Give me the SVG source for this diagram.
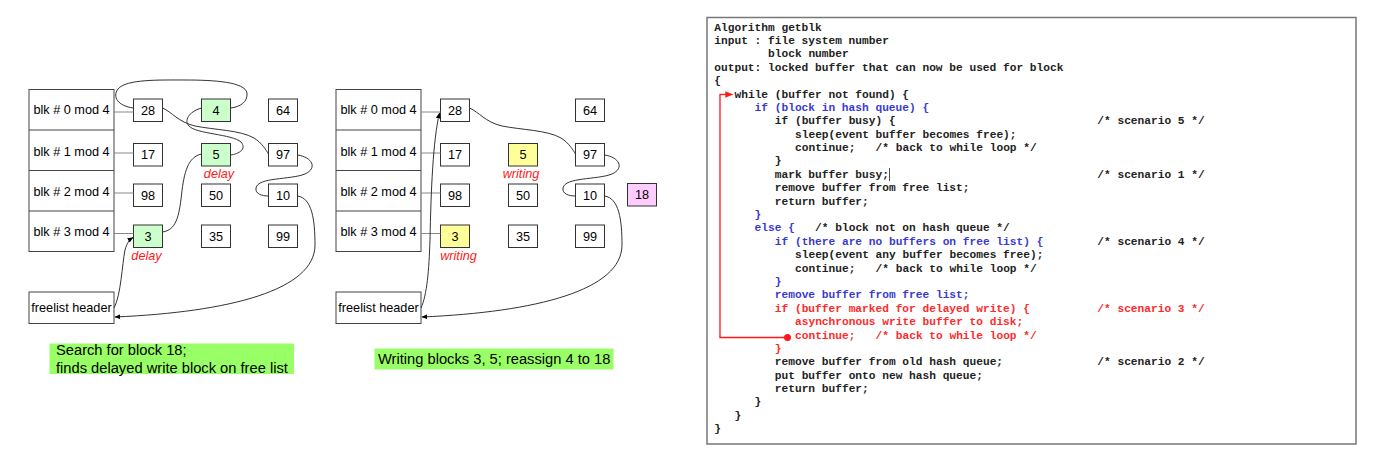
<svg xmlns="http://www.w3.org/2000/svg" width="1379" height="461" viewBox="0 0 1379 461">
<style>
.t{font-family:"Liberation Sans",Arial,sans-serif;font-size:12.7px;fill:#000;text-anchor:middle;dominant-baseline:central}
.lab{font-family:"Liberation Sans",Arial,sans-serif;font-size:12.7px;fill:#ff1a1a;font-style:italic;text-anchor:middle;dominant-baseline:central}
.cap{font-family:"Liberation Sans",Arial,sans-serif;font-size:14.7px;fill:#000}
.box{fill:#fff;stroke:#333;stroke-width:1}
.grn{fill:#ccffcc;stroke:#333;stroke-width:1}
.yel{fill:#ffff99;stroke:#333;stroke-width:1}
.pnk{fill:#ffccff;stroke:#333;stroke-width:1}
.tbl{fill:#fff;stroke:#444;stroke-width:1}
.hl{stroke:#888;stroke-width:1;fill:none}
.cv{stroke:#333;stroke-width:1;fill:none}
.code{font-family:"Liberation Mono","Courier New",monospace;font-size:11.2px;font-weight:bold;fill:#222}
.b{fill:#3a3ad0}
.r{fill:#ff2a2a}
</style>
<defs>
<marker id="ah" viewBox="0 0 10 10" refX="9" refY="5" markerWidth="6" markerHeight="6" orient="auto" markerUnits="userSpaceOnUse"><path d="M0,1 L10,5 L0,9 z" fill="#000"/></marker>
<marker id="rah" viewBox="0 0 10 10" refX="9" refY="5" markerWidth="8" markerHeight="8" orient="auto" markerUnits="userSpaceOnUse"><path d="M0,1 L10,5 L0,9 z" fill="#ff1a1a"/></marker>
</defs>
<rect width="1379" height="461" fill="#fff"/>
<rect id="code-frame" x="707" y="17.5" width="649" height="426.5" fill="#fff" stroke="#777" stroke-width="1.5"/>

<!-- LEFT DIAGRAM -->
<g id="left-hash-table">
<rect class="tbl" x="29" y="89.5" width="85" height="162"/>
<line x1="29" y1="130" x2="114" y2="130" stroke="#444"/>
<line x1="29" y1="170.5" x2="114" y2="170.5" stroke="#444"/>
<line x1="29" y1="211" x2="114" y2="211" stroke="#444"/>
<text class="t" x="71.5" y="110">blk # 0 mod 4</text>
<text class="t" x="71.5" y="151.5">blk # 1 mod 4</text>
<text class="t" x="71.5" y="191.5">blk # 2 mod 4</text>
<text class="t" x="71.5" y="231.5">blk # 3 mod 4</text>
</g>
<g id="left-freelist-header">
<rect class="tbl" x="29" y="292" width="85" height="31.5"/>
<text class="t" x="71.5" y="308">freelist header</text>
</g>
<g id="l-28"><rect class="box" x="133.5" y="99" width="29" height="22.5"/><text class="t" x="148" y="110.5">28</text></g>
<g id="l-4"><rect class="grn" x="201.5" y="99" width="29" height="22.5"/><text class="t" x="216" y="110.5">4</text></g>
<g id="l-64"><rect class="box" x="268.5" y="99" width="29" height="22.5"/><text class="t" x="283" y="110.5">64</text></g>
<g id="l-17"><rect class="box" x="133.5" y="143.5" width="29" height="22.5"/><text class="t" x="148" y="155">17</text></g>
<g id="l-5"><rect class="grn" x="201.5" y="143.5" width="29" height="22.5"/><text class="t" x="216" y="155">5</text><text class="lab" x="219" y="174">delay</text></g>
<g id="l-97"><rect class="box" x="268.5" y="143.5" width="29" height="22.5"/><text class="t" x="283" y="155">97</text></g>
<g id="l-98"><rect class="box" x="133.5" y="184" width="29" height="22.5"/><text class="t" x="148" y="195.5">98</text></g>
<g id="l-50"><rect class="box" x="201.5" y="184" width="29" height="22.5"/><text class="t" x="216" y="195.5">50</text></g>
<g id="l-10"><rect class="box" x="268.5" y="184" width="29" height="22.5"/><text class="t" x="283" y="195.5">10</text></g>
<g id="l-3"><rect class="grn" x="133.5" y="225" width="29" height="22.5"/><text class="t" x="148" y="236.5">3</text><text class="lab" x="146.5" y="256">delay</text></g>
<g id="l-35"><rect class="box" x="201.5" y="225" width="29" height="22.5"/><text class="t" x="216" y="236.5">35</text></g>
<g id="l-99"><rect class="box" x="268.5" y="225" width="29" height="22.5"/><text class="t" x="283" y="236.5">99</text></g>
<g id="left-caption">
<rect x="49.5" y="343.5" width="244.5" height="30.5" fill="#99ff66"/>
<text class="cap" x="56" y="355">Search for block 18;</text>
<text class="cap" x="56" y="372.5">finds delayed write block on free list</text>
</g>

<!-- MIDDLE DIAGRAM -->
<g id="mid-hash-table">
<rect class="tbl" x="336" y="89.5" width="85" height="162"/>
<line x1="336" y1="130" x2="421" y2="130" stroke="#444"/>
<line x1="336" y1="170.5" x2="421" y2="170.5" stroke="#444"/>
<line x1="336" y1="211" x2="421" y2="211" stroke="#444"/>
<text class="t" x="378.5" y="110">blk # 0 mod 4</text>
<text class="t" x="378.5" y="151.5">blk # 1 mod 4</text>
<text class="t" x="378.5" y="191.5">blk # 2 mod 4</text>
<text class="t" x="378.5" y="231.5">blk # 3 mod 4</text>
</g>
<g id="mid-freelist-header">
<rect class="tbl" x="336" y="292" width="85" height="31.5"/>
<text class="t" x="378.5" y="308">freelist header</text>
</g>
<g id="m-28"><rect class="box" x="440.5" y="99" width="29" height="22.5"/><text class="t" x="455" y="110.5">28</text></g>
<g id="m-64"><rect class="box" x="575.5" y="99" width="29" height="22.5"/><text class="t" x="590" y="110.5">64</text></g>
<g id="m-17"><rect class="box" x="440.5" y="143.5" width="29" height="22.5"/><text class="t" x="455" y="155">17</text></g>
<g id="m-5"><rect class="yel" x="508.5" y="143.5" width="29" height="22.5"/><text class="t" x="523" y="155">5</text><text class="lab" x="521" y="174">writing</text></g>
<g id="m-97"><rect class="box" x="575.5" y="143.5" width="29" height="22.5"/><text class="t" x="590" y="155">97</text></g>
<g id="m-98"><rect class="box" x="440.5" y="184" width="29" height="22.5"/><text class="t" x="455" y="195.5">98</text></g>
<g id="m-50"><rect class="box" x="508.5" y="184" width="29" height="22.5"/><text class="t" x="523" y="195.5">50</text></g>
<g id="m-10"><rect class="box" x="575.5" y="184" width="29" height="22.5"/><text class="t" x="590" y="195.5">10</text></g>
<g id="m-18"><rect class="pnk" x="627.5" y="183.5" width="29" height="22.5"/><text class="t" x="642" y="195">18</text></g>
<g id="m-3"><rect class="yel" x="440.5" y="225" width="29" height="22.5"/><text class="t" x="455" y="236.5">3</text><text class="lab" x="458.5" y="256">writing</text></g>
<g id="m-35"><rect class="box" x="508.5" y="225" width="29" height="22.5"/><text class="t" x="523" y="236.5">35</text></g>
<g id="m-99"><rect class="box" x="575.5" y="225" width="29" height="22.5"/><text class="t" x="590" y="236.5">99</text></g>
<g id="mid-caption">
<rect x="374.5" y="348.5" width="239" height="21" fill="#99ff66"/>
<text class="cap" x="378" y="364">Writing blocks 3, 5; reassign 4 to 18</text>
</g>

<!-- CODE PANEL -->
<g id="code-panel">
<text class="code" x="714.3" y="30.5">Algorithm getblk</text>
<text class="code" x="714.3" y="43.9">input : file system number</text>
<text class="code" x="768.1" y="57.3">block number</text>
<text class="code" x="714.3" y="70.7">output: locked buffer that can now be used for block</text>
<text class="code" x="714.3" y="84.1">{</text>
<text class="code" x="734.5" y="97.5">while (buffer not found) {</text>
<text class="code b" x="754.6" y="110.8">if (block in hash queue) {</text>
<text class="code" x="774.8" y="124.2">if (buffer busy) {</text>
<text class="code" x="1097.3" y="124.2">/* scenario 5 */</text>
<text class="code" x="795" y="137.6">sleep(event buffer becomes free);</text>
<text class="code" x="795" y="151">continue;</text>
<text class="code" x="875.6" y="151">/* back to while loop */</text>
<text class="code" x="774.8" y="164.4">}</text>
<text class="code" x="774.8" y="177.8">mark buffer busy;</text>
<line x1="889.5" y1="168" x2="889.5" y2="181" stroke="#222" stroke-width="0.8"/>
<text class="code" x="1097.3" y="177.8">/* scenario 1 */</text>
<text class="code" x="774.8" y="191.2">remove buffer from free list;</text>
<text class="code" x="774.8" y="204.6">return buffer;</text>
<text class="code b" x="754.6" y="218">}</text>
<text class="code b" x="754.6" y="231.4">else {</text>
<text class="code" x="815.1" y="231.4">/* block not on hash queue */</text>
<text class="code b" x="774.8" y="244.7">if (there are no buffers on free list) {</text>
<text class="code" x="1097.3" y="244.7">/* scenario 4 */</text>
<text class="code" x="795" y="258.1">sleep(event any buffer becomes free);</text>
<text class="code" x="795" y="271.5">continue;</text>
<text class="code" x="875.6" y="271.5">/* back to while loop */</text>
<text class="code b" x="774.8" y="284.9">}</text>
<text class="code b" x="774.8" y="298.3">remove buffer from free list;</text>
<text class="code r" x="774.8" y="311.7">if (buffer marked for delayed write) {</text>
<text class="code r" x="1097.3" y="311.7">/* scenario 3 */</text>
<text class="code r" x="795" y="325.1">asynchronous write buffer to disk;</text>
<text class="code r" x="795" y="338.5">continue;</text>
<text class="code r" x="875.6" y="338.5">/* back to while loop */</text>
<text class="code r" x="774.8" y="351.9">}</text>
<text class="code" x="774.8" y="365.3">remove buffer from old hash queue;</text>
<text class="code" x="1097.3" y="365.3">/* scenario 2 */</text>
<text class="code" x="774.8" y="378.6">put buffer onto new hash queue;</text>
<text class="code" x="774.8" y="392">return buffer;</text>
<text class="code" x="754.6" y="405.4">}</text>
<text class="code" x="734.5" y="418.8">}</text>
<text class="code" x="714.3" y="432.2">}</text>
</g>

<!-- CONNECTORS -->
<g id="connectors">
<line class="hl" x1="114" y1="112" x2="133.5" y2="112"/>
<line class="hl" x1="114" y1="153" x2="133.5" y2="153"/>
<line class="hl" x1="114" y1="193" x2="133.5" y2="193"/>
<line class="hl" x1="114" y1="233.5" x2="133.5" y2="233.5"/>
<path class="cv" d="M133.5,108 C118,106 112,97 118,89 C126,79 160,80 185,80 C215,80 245,82 247,93 C248,102 240,107 230.5,108"/>
<path class="cv" d="M201.5,108 C188,112 184,121 189,126 C196,134 232,134 241,142 C247,149 239,154 230.5,155"/>
<path class="cv" d="M162.5,108 C172,112 178,122 195,126 C215,130 240,130 254,138 C262,143 266,150 268.5,154"/>
<path class="cv" d="M201.5,154 C188,157 184,172 181.5,195 C179,217 176,230 162.5,232"/>
<path class="cv" d="M297.5,155 C312,157 318,168 305,174 C290,180 258,177 256,188 C255,194 262,196 268.5,196"/>
<path class="cv" d="M297.5,196 C312,198 315,220 315,245 C315,290 230,312 115,317" marker-end="url(#ah)"/>
<path class="cv" d="M114,308 C121,295 122,265 125,250 C127,243 129,240 133,237.5" marker-end="url(#ah)"/>

<line class="hl" x1="421" y1="112" x2="440.5" y2="112"/>
<line class="hl" x1="421" y1="153" x2="440.5" y2="153"/>
<line class="hl" x1="421" y1="193" x2="440.5" y2="193"/>
<line class="hl" x1="421" y1="233.5" x2="440.5" y2="233.5"/>
<path class="cv" d="M469.5,108 C479,112 485,122 502,126 C522,130 547,130 561,138 C569,143 573,150 575.5,154"/>
<path class="cv" d="M604.5,155 C619,157 625,168 612,174 C597,180 565,177 563,188 C562,194 569,196 575.5,196"/>
<path class="cv" d="M604.5,196 C619,198 622,220 622,245 C622,290 537,312 422,317" marker-end="url(#ah)"/>
<path class="cv" d="M421,308 C427,295 429,270 430,240 C431,190 433,140 439.5,113" marker-end="url(#ah)"/>

<line x1="720" y1="94.5" x2="720" y2="337.5" stroke="#ff1a1a" stroke-width="1.3"/>
<line x1="719.4" y1="94.5" x2="732.5" y2="94.5" stroke="#ff1a1a" stroke-width="1.3" marker-end="url(#rah)"/>
<line x1="719.4" y1="337.5" x2="787" y2="337.5" stroke="#ff1a1a" stroke-width="1.3"/>
<circle cx="787.5" cy="337.5" r="3.5" fill="#ff1a1a"/>
</g>
</svg>
